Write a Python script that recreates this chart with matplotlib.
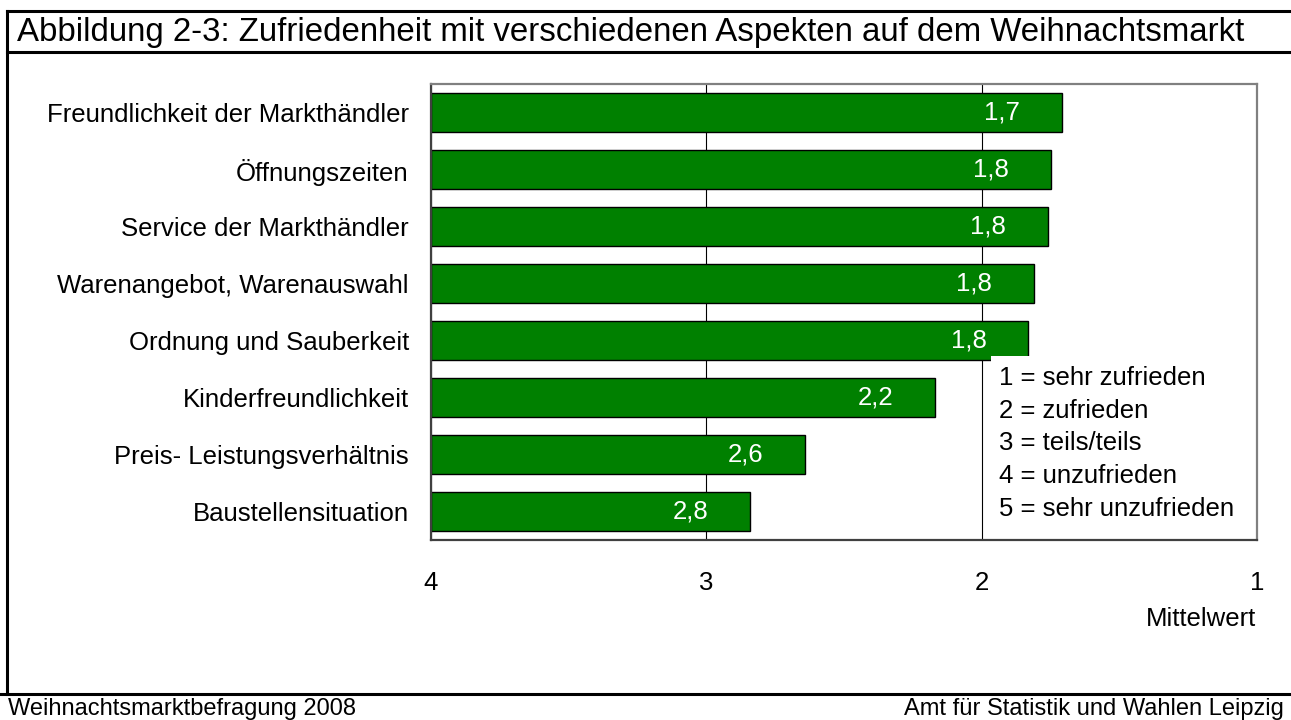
import matplotlib.pyplot as plt
from matplotlib.lines import Line2D
from matplotlib.patches import Rectangle

plt.rcParams['font.family'] = ['Liberation Sans', 'DejaVu Sans']

aspects = ["Freundlichkeit der Markthändler", "Öffnungszeiten", "Service der Markthändler",
           "Warenangebot, Warenauswahl", "Ordnung und Sauberkeit", "Kinderfreundlichkeit",
           "Preis- Leistungsverhältnis", "Baustellensituation"]
means = [1.71, 1.75, 1.76, 1.81, 1.83, 2.17, 2.64, 2.84]
ticks = [4, 3, 2, 1]
scale_text = ["1 = sehr zufrieden", "2 = zufrieden", "3 = teils/teils",
              "4 = unzufrieden", "5 = sehr unzufrieden"]

W, H = 1291, 720
FS = 18.5
fig = plt.figure(figsize=(W / 100, H / 100), dpi=100)

# plot area in pixels: x 431..1257, y 84..540
ax = fig.add_axes([431 / W, 1 - 540 / H, 826 / W, 456 / H])
ypos = list(range(len(aspects)))
ax.barh(ypos, [4 - m for m in means], left=means, height=0.7,
        color='#008000', edgecolor='black', linewidth=1, zorder=2)
for y, m in zip(ypos, means):
    ax.text(m + 0.217, y, f"{m:.1f}".replace('.', ','), color='white',
            ha='center', va='center', fontsize=FS, zorder=3)

ax.set_xlim(4, 1)
ax.set_ylim(len(aspects) - 0.5, -0.5)
ax.set_yticks(ypos)
ax.set_yticklabels(aspects, fontsize=FS)
ax.set_xticks(ticks)
ax.set_xticklabels([str(t) for t in ticks], fontsize=FS)
ax.tick_params(axis='y', length=0, pad=16)
ax.tick_params(axis='x', length=0, pad=22)
ax.grid(axis='x', color='black', linewidth=0.8, zorder=1)
for s in ax.spines.values():
    s.set_color('#808080')
    s.set_linewidth(1.6)
    s.set_zorder(6)
ax.spines['left'].set_color('#404040')
ax.spines['bottom'].set_color('#404040')

# white box with rating scale
ax.add_patch(Rectangle(((991 - 431) / 826, 0), (1257 - 991) / 826, (540 - 356) / 456,
                       transform=ax.transAxes, facecolor='white', edgecolor='none', zorder=4))
for i, t in enumerate(scale_text):
    fig.text(999 / W, 1 - (378 + i * 32.75) / H, t, fontsize=FS, va='center', ha='left')

fig.text(1256 / W, 1 - 619 / H, "Mittelwert", fontsize=FS, ha='right', va='center')

# frame lines
fig.add_artist(Line2D([7 / W, 7 / W], [1 - 694 / H, 1 - 11 / H], color='black', lw=2.2))
fig.add_artist(Line2D([7 / W, 1], [1 - 11 / H, 1 - 11 / H], color='black', lw=2.2))
fig.add_artist(Line2D([7 / W, 1], [1 - 52 / H, 1 - 52 / H], color='black', lw=2.2))
fig.add_artist(Line2D([0, 1], [1 - 694 / H, 1 - 694 / H], color='black', lw=2.2))

fig.text(17 / W, 1 - 32 / H, "Abbildung 2-3: Zufriedenheit mit verschiedenen Aspekten auf dem Weihnachtsmarkt",
         fontsize=23.8, ha='left', va='center')
fig.text(8 / W, 1 - 715 / H, "Weihnachtsmarktbefragung 2008", fontsize=17, ha='left', va='baseline')
fig.text(1284 / W, 1 - 715 / H, "Amt für Statistik und Wahlen Leipzig", fontsize=17,
         ha='right', va='baseline')

fig.savefig("out.png", dpi=100)
